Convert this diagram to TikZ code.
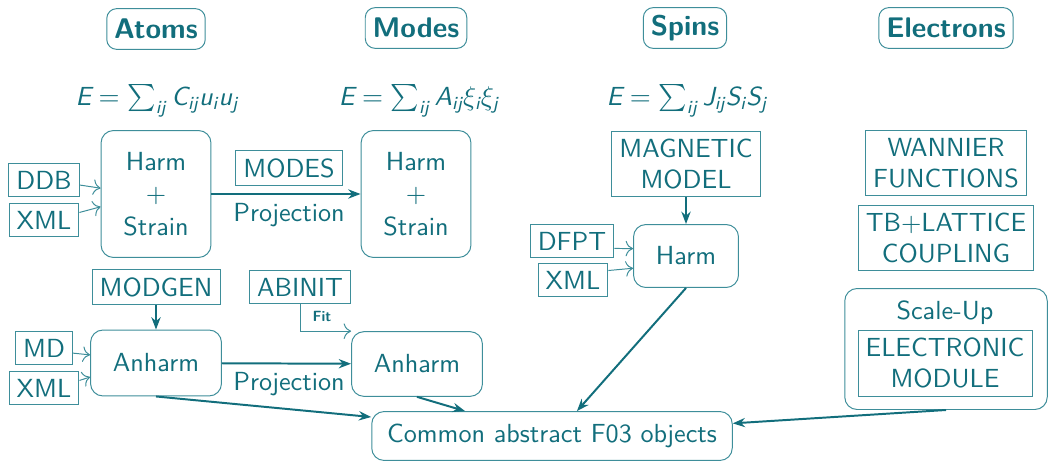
\documentclass[tikz,border=0pt]{standalone}
\usepackage{amsmath}
\usetikzlibrary{arrows.meta}

\definecolor{tealtext}{RGB}{18,110,124}
\definecolor{tealline}{RGB}{62,142,154}

\newcommand{\sfit}[1]{\textit{#1}}

\tikzset{
  every node/.style={font=\sffamily\fontsize{10.6}{12.7}\selectfont, text=tealtext},
  title/.style={draw=tealline, rounded corners=4pt, inner sep=3pt, minimum height=16.5pt,
    font=\sffamily\bfseries\fontsize{11.5}{13}\selectfont},
  tag/.style={draw=tealline, inner sep=3.1pt, align=center},
  block/.style={draw=tealline, rounded corners=5pt, align=center},
  thinarrow/.style={draw=tealline, line width=0.4pt, -{To[length=3pt]}},
  thickarrow/.style={draw=tealtext, line width=0.8pt, -{Stealth[length=5pt]}},
}

\begin{document}
\begin{tikzpicture}[x=0.405pt,y=-0.405pt]
\useasboundingbox (0,0) rectangle (1051,462);
% column headers
\node[title] (atoms) at (156,29) {Atoms};
\node[title] (modes) at (416,28) {Modes};
\node[title] (spins) at (685,28) {Spins};
\node[title] (electrons) at (946,28) {Electrons};
% energies
\node (e1) at (157,101) {$\sfit{E}=\sum_{\sfit{ij}} \sfit{C}_{\sfit{ij}}\sfit{u}_{\sfit{i}}\sfit{u}_{\sfit{j}}$};
\node (e2) at (419,101) {$\sfit{E}=\sum_{\sfit{ij}} \sfit{A}_{\sfit{ij}}\xi_{\sfit{i}}\xi_{\sfit{j}}$};
\node (e3) at (687,101) {$\sfit{E}=\sum_{\sfit{ij}} \sfit{J}_{\sfit{ij}}\sfit{S}_{\sfit{i}}\sfit{S}_{\sfit{j}}$};
% atoms and modes
\node[block, minimum width=44.5pt, minimum height=51.4pt] (hs1) at (156,194) {Harm\\[0.5pt]+\\[0.5pt]Strain};
\node[block, minimum width=44.5pt, minimum height=51.4pt] (hs2) at (416,194) {Harm\\[0.5pt]+\\[0.5pt]Strain};
\node[tag] (modesin) at (289,168) {MODES};
\node (proj1) at (289,215) {Projection};
\node[tag] (ddb) at (44,180) {DDB};
\node[tag] (xml1) at (44,220) {XML};
\node[tag] (modgen) at (156,287) {MODGEN};
\node[tag] (abinit) at (300,287) {ABINIT};
\node[block, minimum width=53pt, minimum height=26.7pt] (anh1) at (156,363) {Anharm};
\node[block, minimum width=53pt, minimum height=26.2pt] (anh2) at (417,364) {Anharm};
\node (proj2) at (289,384) {Projection};
\node[font=\sffamily\bfseries\fontsize{6}{7}\selectfont] (fit) at (322,316) {Fit};
\node[tag] (md) at (44,348) {MD};
\node[tag] (xml2) at (44,388) {XML};
% spins
\node[tag] (magnetic) at (686,164) {MAGNETIC\\MODEL};
\node[block, minimum width=42.5pt, minimum height=25.5pt] (harm) at (686,256) {Harm};
\node[tag] (dfpt) at (572,241) {DFPT};
\node[tag] (xml3) at (573,280) {XML};
% electrons
\node[tag] (wannier) at (946,163) {WANNIER\\FUNCTIONS};
\node[tag] (tb) at (946,238) {TB+LATTICE\\COUPLING};
\node[block, minimum width=82pt, minimum height=49pt] (scaleup) at (946,349) {};
\node (scaletxt) at (945,313) {Scale-Up};
\node[tag] (elec) at (945,363) {ELECTRONIC\\MODULE};
% common objects
\node[block, minimum width=146pt, minimum height=19.8pt] (common) at (552,436) {Common abstract F03 objects};

\draw[thickarrow] (hs1) -- (hs2);
\draw[thickarrow] (anh1) -- (anh2);
\draw[thickarrow] (modgen) -- (anh1);
\draw[thickarrow] (magnetic) -- (harm);
\draw[thinarrow] (ddb.-8) -- (hs1.174);
\draw[thinarrow] (xml1.12) -- (hs1.193);
\draw[thinarrow] (md.-10) -- (anh1.173);
\draw[thinarrow] (xml2.12) -- (anh1.192);
\draw[thinarrow] (dfpt.-10) -- (harm.172);
\draw[thinarrow] (xml3.15) -- (harm.193);
\draw[thinarrow] (abinit.south) |- (anh2.north west);
\draw[thickarrow] (anh1.south) -- (common.174);
\draw[thickarrow] (anh2.south) -- (common.164);
\draw[thickarrow] (harm.south) -- (common.45);
\draw[thickarrow] (scaleup.south) -- (common.4);
\end{tikzpicture}
\end{document}
